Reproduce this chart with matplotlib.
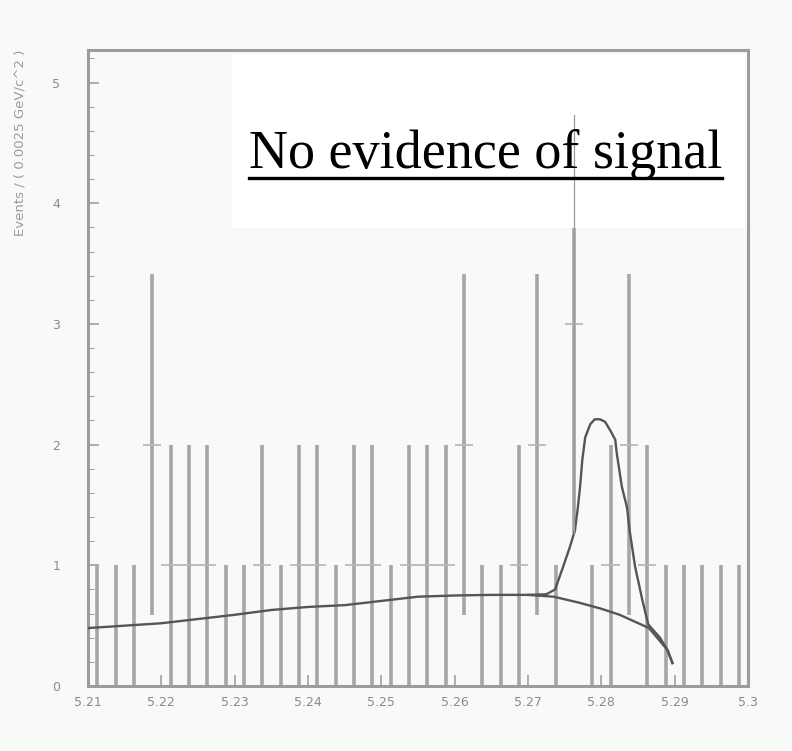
import numpy as np
import matplotlib
matplotlib.use("Agg")
import matplotlib.pyplot as plt
from matplotlib.lines import Line2D
from matplotlib.patches import Rectangle


# ----------------------------------------------------------
# Data: candidates per 2.5 MeV bin, 5.21 - 5.30 GeV
# ----------------------------------------------------------
mass_min = 5.21
mass_max = 5.30
bin_width = 0.0025
counts = [0, 0, 0, 2, 1, 1, 1, 0, 0, 1, 0, 1,
          1, 0, 1, 1, 0, 1, 1, 1, 2, 0, 0, 1,
          2, 0, 3, 0, 1, 2, 1, 0, 0, 0, 0, 0]

# background (ARGUS-like) fit component
bg_mass = [5.2100, 5.2150, 5.2200, 5.2250, 5.2300, 5.2350, 5.2400,
           5.2450, 5.2500, 5.2550, 5.2600, 5.2650, 5.2700, 5.2735,
           5.2770, 5.2800, 5.2825, 5.2865, 5.2890, 5.2897]
bg_val = [0.48, 0.50, 0.52, 0.555, 0.59, 0.63, 0.655,
          0.67, 0.705, 0.74, 0.75, 0.755, 0.755, 0.74,
          0.69, 0.64, 0.59, 0.48, 0.30, 0.19]

# total fit (background + signal gaussian)
tot_mass = [5.2700, 5.2725, 5.2737, 5.2748, 5.2757, 5.2764, 5.2768,
            5.2771, 5.2774, 5.2778, 5.2785, 5.2791, 5.2798, 5.2805,
            5.2812, 5.2819, 5.2821, 5.2828, 5.2835, 5.2839, 5.2846,
            5.2856, 5.2864, 5.2880, 5.2890, 5.2897]
tot_val = [0.755, 0.76, 0.80, 0.99, 1.15, 1.29, 1.48,
           1.65, 1.87, 2.06, 2.17, 2.21, 2.21, 2.19,
           2.12, 2.04, 1.93, 1.65, 1.48, 1.27, 0.99,
           0.71, 0.51, 0.40, 0.30, 0.19]

xtick_vals = [5.21, 5.22, 5.23, 5.24, 5.25, 5.26, 5.27, 5.28, 5.29, 5.30]
xtick_labels = ["5.21", "5.22", "5.23", "5.24", "5.25", "5.26", "5.27",
                "5.28", "5.29", "5.3"]
ytick_vals = [0, 1, 2, 3, 4, 5]

y_label = "Events / ( 0.0025 GeV/c^2 )"
note = "No evidence of signal"

# ----------------------------------------------------------
# Derived arrays
# ----------------------------------------------------------
counts = np.array(counts, dtype=float)
centers = mass_min + bin_width * (np.arange(len(counts)) + 0.5)
err_lo = np.sqrt(counts)
err_hi = np.sqrt(counts)
err_hi[counts == 0] = 1.0

# ----------------------------------------------------------
# Figure
# ----------------------------------------------------------
W, H = 792, 751
bg_col = "#f7faf7"
fig = plt.figure(figsize=(W / 100, H / 100), dpi=100, facecolor=bg_col)
ax = fig.add_axes([88 / W, 1 - 686 / H, (748 - 88) / W, (686 - 50) / H])
ax.set_facecolor(bg_col)

bar_col = "#a6a6a6"
ax.errorbar(centers, counts, yerr=[err_lo, err_hi],
            fmt="none", ecolor=bar_col, elinewidth=2.6, capsize=0, zorder=2)
nz = counts > 0
ax.errorbar(centers[nz], counts[nz], xerr=bin_width / 2,
            fmt="none", ecolor="#b8b8b8", elinewidth=1.3, capsize=0, zorder=2)

ax.plot(bg_mass, bg_val, color="#555555", lw=1.7, zorder=3)
ax.plot(tot_mass, tot_val, color="#555555", lw=1.7, zorder=3)

ax.set_xlim(mass_min, mass_max)
ax.set_ylim(0, 5.27)

ax.set_xticks(xtick_vals)
ax.set_xticklabels(xtick_labels)
ax.set_yticks(ytick_vals)
ax.set_yticks(np.arange(0, 5.21, 0.2), minor=True)
ax.tick_params(which="both", direction="in", color="#a0a0a0",
               labelcolor="#8a8a8a", labelsize=9)
ax.tick_params(which="major", length=8, width=1.2)
ax.tick_params(axis="x", which="major", pad=7)
ax.tick_params(axis="y", which="major", pad=20)
ax.tick_params(which="minor", length=4, width=0.8)

for side in ["left", "right", "top", "bottom"]:
    ax.spines[side].set_color("#9c9c9c")
    ax.spines[side].set_linewidth(2.2)

fig.text(20 / W, 1 - 143 / H, y_label, rotation=90, ha="center", va="center",
         fontsize=9.5, color="#9a9a9a")

# white note box over the upper part of the plot
box = Rectangle((232 / W, 1 - 228 / H), (745 - 232) / W, (228 - 55) / H,
                transform=fig.transFigure, facecolor="white",
                edgecolor="none", zorder=5)
fig.add_artist(box)

# error bar of the 3-entry bin continues as a thin line over the box
k = int(np.argmax(counts))
fig.add_artist(Line2D([centers[k], centers[k]],
                      [counts[k] - err_lo[k], counts[k] + err_hi[k]],
                      transform=ax.transData, color="#9a9a9a", lw=0.9,
                      zorder=6))

base_px = 168
txt = fig.text(249 / W, 1 - base_px / H, note, ha="left", va="baseline",
               fontsize=39, family="Liberation Serif", color="black",
               zorder=7)

# underline the note, a few pixels below the baseline
fig.canvas.draw()
bb = txt.get_window_extent()
uy = H - (base_px + 10)
fig.add_artist(Line2D([bb.x0 / W, bb.x1 / W], [uy / H, uy / H],
                      transform=fig.transFigure, color="black", lw=2.4,
                      zorder=8))

fig.savefig("out.png", dpi=100, facecolor=bg_col)
